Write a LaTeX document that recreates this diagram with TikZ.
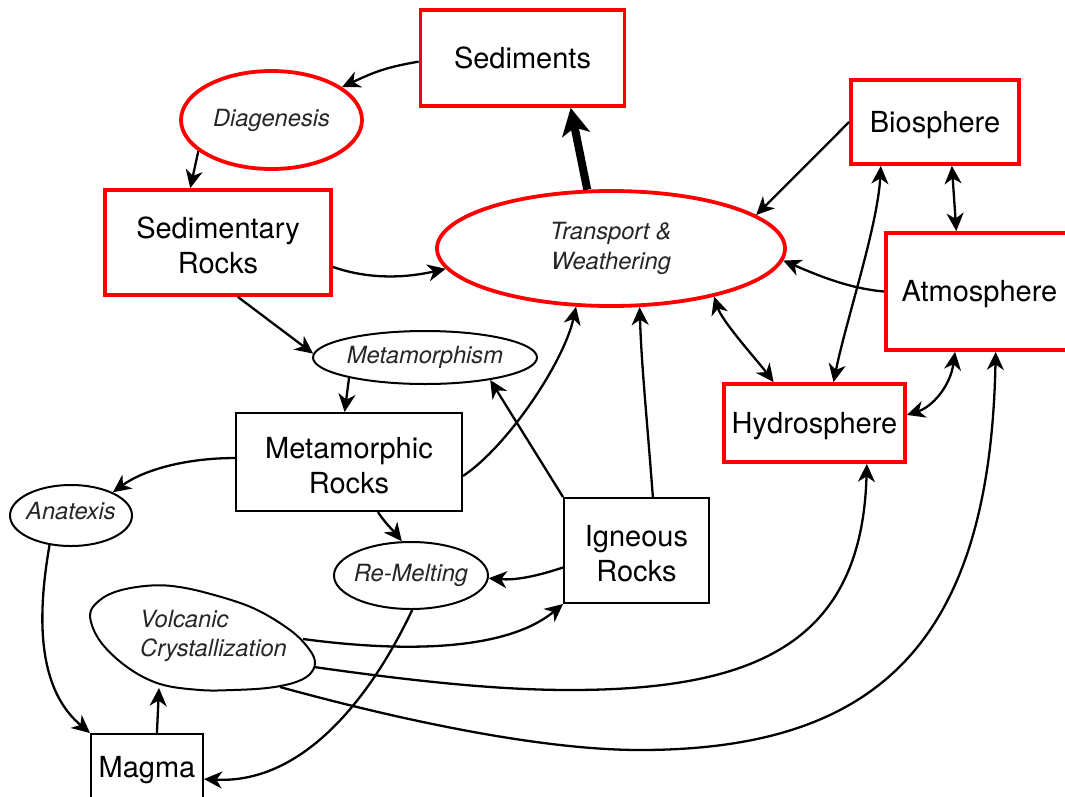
\documentclass[tikz,border=0pt]{standalone}
\usepackage{fontspec}
\setmainfont{TeX Gyre Heros}
\usetikzlibrary{arrows.meta,shapes.geometric}
\newcommand\topstrut{\rule{0pt}{28pt}}
\begin{document}
\begin{tikzpicture}[x=1pt,y=-1pt,
  boxfont/.style={font=\fontsize{29}{35}\selectfont, align=center},
  itfont/.style={font=\fontsize{23.7}{29.5}\selectfont\itshape, text=black!85, align=center},
  redbox/.style={rectangle, draw=red, line width=3.8pt, inner sep=0pt, boxfont},
  blkbox/.style={rectangle, draw=black, line width=2pt, inner sep=0pt, boxfont},
  redell/.style={ellipse, draw=red, line width=3.8pt, inner sep=0pt, itfont},
  blkell/.style={ellipse, draw=black, line width=2pt, inner sep=0pt, itfont},
  conn/.style={line width=2.3pt, -{Stealth[length=18pt,width=17pt,inset=5.5pt]}},
  dconn/.style={line width=2.3pt, {Stealth[length=18pt,width=17pt,inset=5.5pt]}-{Stealth[length=18pt,width=17pt,inset=5.5pt]}},
  bigconn/.style={line width=8pt, -{Stealth[length=27pt,width=28pt,inset=7pt]}}
]
\useasboundingbox (0,0) rectangle (1065,796);
\fill[white] (0,0) rectangle (1065,796);
\clip (0,0) rectangle (1065,796);

% nodes
\node[redbox, minimum width=204pt, minimum height=96pt] (sed) at (522.5,58) {Sediments};
\node[redell, minimum width=181pt, minimum height=98pt] (dia) at (271.5,120) {Diagenesis};
\node[redbox, minimum width=226pt, minimum height=105pt] (sedr) at (218,242.5) {\topstrut Sedimentary\\Rocks};
\node[redell, minimum width=348pt, minimum height=115pt] (tw) at (611,248.5) {Transport \&\\Weathering};
\node[redbox, minimum width=168pt, minimum height=84pt, text depth=0pt] (bio) at (935,122) {Biosphere};
\node[redbox, minimum width=187pt, minimum height=117pt, text depth=2pt] (atm) at (979.5,291.5) {Atmosphere};
\node[redbox, minimum width=181pt, minimum height=78pt, text depth=0pt] (hyd) at (814.5,423) {Hydrosphere};
\node[blkell, minimum width=224pt, minimum height=53pt, inner xsep=-1pt] (meta) at (425,357.5) {Metamorphism};
\node[blkbox, minimum width=226pt, minimum height=98pt] (mr) at (349,462) {\topstrut Metamorphic\\Rocks};
\node[blkell, minimum width=122pt, minimum height=61pt, inner xsep=-2pt, text depth=9pt] (ana) at (71,515.5) {Anatexis};
\node[blkell, minimum width=154pt, minimum height=67pt, inner xsep=-4pt] (rem) at (411,575.5) {Re-Melting};
\node[blkbox, minimum width=145pt, minimum height=105pt] (ig) at (636.5,550.5) {\topstrut Igneous\\Rocks};
\node[blkbox, minimum width=112pt, minimum height=72pt] (mag) at (147,770) {Magma};

% volcanic crystallization blob
\draw[line width=2pt] plot[smooth cycle, tension=0.6] coordinates {
  (90,615) (100,600) (118,591) (145,586) (172,586) (207,593) (253,608)
  (290,630) (309,649) (315,663) (309,675) (293,683) (267,688) (233,690)
  (200,690) (160,684) (127,667) (100,641)};
\node[itfont, align=left, inner sep=0pt, anchor=west] (vc) at (140,636) {Volcanic\\Crystallization};
\coordinate (vcA) at (159,688);
\coordinate (vcB) at (303,639);
\coordinate (vcC) at (314,667);
\coordinate (vcD) at (280,687);
\coordinate (bendC) at (570,690);
\coordinate (bendD) at (640,750);

% connectors
\draw[conn] (sed.182) .. controls +(-35,6) and +(30,-14) .. (dia.25);
\draw[conn] (dia.203) -- (sedr.117);
\draw[conn] (sedr.-12.5) .. controls +(40,14) and +(-35,8) .. (tw.187);
\draw[conn] (sedr.-70) -- (meta.178);
\draw[conn] (meta.195) -- (mr.95);
\draw[conn] (mr.-7.5) .. controls +(45,-30) and +(-12,55) .. (tw.239);
\draw[conn] (mr.178) .. controls +(-50,0) and +(30,-22) .. (ana.29);
\draw[conn] (mr.-60) .. controls +(8,12) and +(-8,-10) .. (rem.105);
\draw[conn] (ig.193) .. controls +(-30,10) and +(25,2) .. (rem.-2);
\draw[conn] (ig.north west) -- (meta.-19);
\draw[conn] (ig.73) .. controls +(-6,-80) and +(2,60) .. (tw.-64);
\draw[bigconn] (tw.112) -- (sed.-46.5);
\draw[conn] (bio.west) -- (tw.13);
\draw[conn] (atm.west) .. controls +(-35,-3) and +(35,15) .. (tw.-4);
\draw[dconn] (tw.-25) .. controls +(8,25) and +(-15,-20) .. (hyd.135);
\draw[dconn] (bio.219) .. controls +(-3,60) and +(12,-60) .. (hyd.65);
\draw[dconn] (bio.-69) -- (atm.111);
\draw[dconn] (atm.248) .. controls +(-5,35) and +(25,-8) .. (hyd.5);
\draw[conn] (ana.234) .. controls +(-14,80) and +(-50,-42) .. (mag.north west);
\draw[conn] (mag.75) -- (vcA);
\draw[conn] (vcB) .. controls (400,652) and (505,652) .. (ig.south west);
\draw[conn] (vcC) .. controls (420,682) and (500,690) .. (bendC)
  .. controls (760,690) and (862,640) .. (hyd.-38);
\draw[conn] (vcD) .. controls (400,720) and (540,750) .. (bendD)
  .. controls (880,750) and (990,640) .. (atm.-75);
\draw[conn] (rem.-88) .. controls +(-45,95) and +(95,5) .. (mag.-9);
\end{tikzpicture}
\end{document}
